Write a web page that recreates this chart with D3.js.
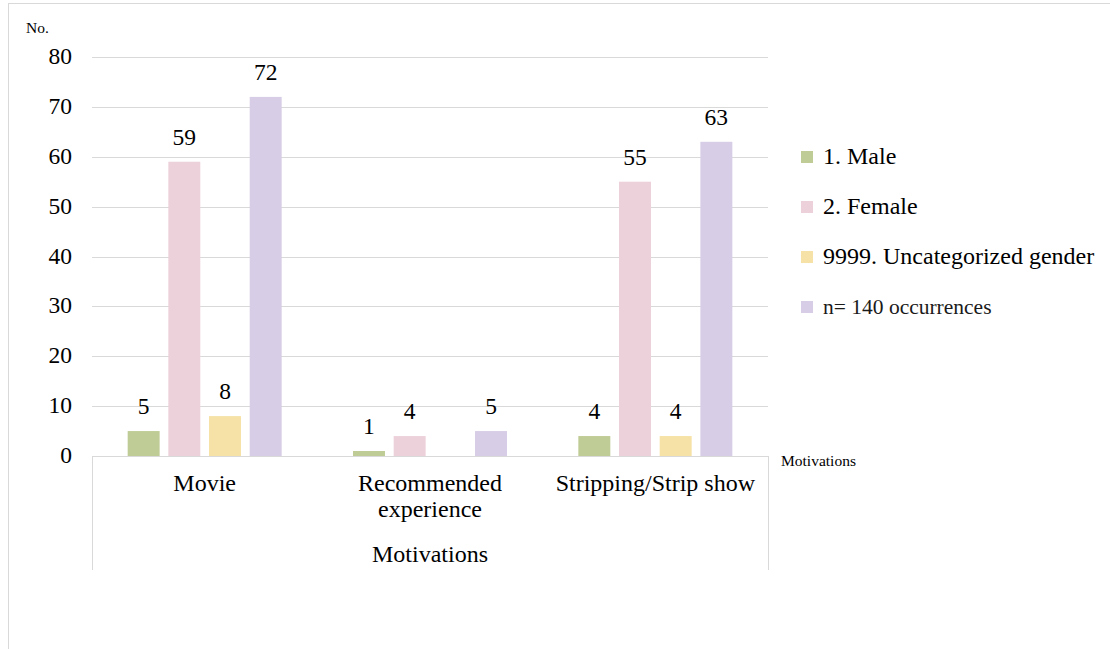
<!DOCTYPE html>
<html>
<head>
<meta charset="utf-8">
<script src="https://cdn.jsdelivr.net/npm/d3@7"></script>
<style>
  body { margin: 0; background: #fff; }
</style>
</head>
<body>
<svg id="chart" width="1110" height="649"></svg>
<script>
const categories = ['Movie', 'Recommended experience', 'Stripping/Strip show'];
const seriesNames = ['1. Male', '2. Female', '9999. Uncategorized gender', 'n= 140 occurrences'];
const seriesColors = ['#bfcc95', '#edd1da', '#f6e2a6', '#d7cde6'];
const male = [5, 1, 4];
const female = [59, 4, 55];
const uncategorized = [8, null, 4];
const total = [72, 5, 63];
const yTicks = [0, 10, 20, 30, 40, 50, 60, 70, 80];

const seriesValues = [male, female, uncategorized, total];

const svg = d3.select('#chart');
const plotLeft = 92;
const plotRight = 768;
const plotTop = 57;
const plotBottom = 456;
const grey = '#d9d9d9';
const serif = "'Liberation Serif', 'Times New Roman', serif";

// outer frame
svg.append('rect')
  .attr('x', 8.5).attr('y', 3.5)
  .attr('width', 1200).attr('height', 700)
  .attr('fill', 'none').attr('stroke', grey);

const y = d3.scaleLinear().domain([0, 80]).range([plotBottom, plotTop]);
const x0 = d3.scaleBand().domain(categories).range([plotLeft, plotRight]);
const x1 = d3.scaleBand().domain(seriesNames).range([0, 154]).paddingInner(0.214);
const offset = (x0.bandwidth() - 154) / 2;

const grid = svg.append('g');
grid.selectAll('line')
  .data(yTicks.filter((d) => d > 0))
  .enter()
  .append('line')
  .attr('x1', plotLeft).attr('x2', plotRight)
  .attr('y1', (d) => Math.round(y(d)) + 0.5)
  .attr('y2', (d) => Math.round(y(d)) + 0.5)
  .attr('stroke', grey);

svg.append('g')
  .selectAll('text')
  .data(yTicks)
  .enter()
  .append('text')
  .text((d) => d)
  .attr('x', 72)
  .attr('y', (d) => y(d) + 7)
  .attr('text-anchor', 'end')
  .style('font-family', serif)
  .style('font-size', '23.5px');

svg.append('text').text('No.')
  .attr('x', 26).attr('y', 33)
  .style('font-family', serif)
  .style('font-size', '15.5px');

// bars
const bars = [];
seriesValues.forEach((vals, s) => {
  vals.forEach((v, c) => {
    if (v !== null) bars.push({ cat: categories[c], series: seriesNames[s], value: v, color: seriesColors[s] });
  });
});

const barGroup = svg.append('g');
barGroup.selectAll('rect')
  .data(bars)
  .enter()
  .append('rect')
  .attr('x', (d) => x0(d.cat) + offset + x1(d.series))
  .attr('y', (d) => y(d.value))
  .attr('width', x1.bandwidth())
  .attr('height', (d) => plotBottom - y(d.value))
  .attr('fill', (d) => d.color);

barGroup.selectAll('text')
  .data(bars)
  .enter()
  .append('text')
  .text((d) => d.value)
  .attr('x', (d) => x0(d.cat) + offset + x1(d.series) + x1.bandwidth() / 2)
  .attr('y', (d) => y(d.value) - 17)
  .attr('text-anchor', 'middle')
  .style('font-family', serif)
  .style('font-size', '23.5px');

// category axis
const axis = svg.append('g').attr('stroke', grey).attr('fill', 'none');
axis.append('line').attr('x1', plotLeft).attr('x2', plotRight).attr('y1', plotBottom + 0.5).attr('y2', plotBottom + 0.5);
axis.append('line').attr('x1', plotLeft + 0.5).attr('x2', plotLeft + 0.5).attr('y1', plotBottom).attr('y2', 570);
axis.append('line').attr('x1', plotRight + 0.5).attr('x2', plotRight + 0.5).attr('y1', plotBottom).attr('y2', 570);

const catLines = {
  'Movie': ['Movie'],
  'Recommended experience': ['Recommended', 'experience'],
  'Stripping/Strip show': ['Stripping/Strip show'],
};
const catLabels = svg.append('g');
categories.forEach((c) => {
  catLabels.append('g')
    .selectAll('text')
    .data(catLines[c])
    .enter()
    .append('text')
    .text((d) => d)
    .attr('x', x0(c) + x0.bandwidth() / 2)
    .attr('y', (d, i) => 491 + i * 26)
    .attr('text-anchor', 'middle')
    .style('font-family', serif)
    .style('font-size', '24px');
});

svg.append('text').text('Motivations')
  .attr('x', (plotLeft + plotRight) / 2).attr('y', 562)
  .attr('text-anchor', 'middle')
  .style('font-family', serif)
  .style('font-size', '24px');

svg.append('text').text('Motivations')
  .attr('x', 781).attr('y', 466)
  .style('font-family', serif)
  .style('font-size', '15.5px');

// legend
const legend = svg.append('g');
legend.selectAll('rect')
  .data(seriesNames)
  .enter()
  .append('rect')
  .attr('x', 801)
  .attr('y', (d, i) => 151 + i * 50)
  .attr('width', 12).attr('height', 12)
  .attr('fill', (d, i) => seriesColors[i]);

legend.selectAll('text')
  .data(seriesNames)
  .enter()
  .append('text')
  .text((d) => d)
  .attr('x', 823)
  .attr('y', (d, i) => 164 + i * 50)
  .style('font-family', serif)
  .style('font-size', (d, i) => (i === 3 ? '21.5px' : '24px'))
  .attr('fill', (d, i) => (i === 3 ? '#1a1a1a' : '#000'));
</script>
</body>
</html>
